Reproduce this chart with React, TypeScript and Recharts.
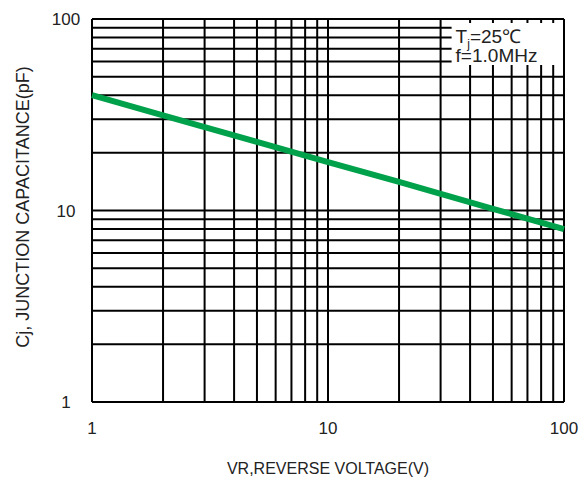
import { LineChart, Line, XAxis, YAxis, ReferenceLine, ReferenceArea, Label } from "recharts";

// VR (V) vs Cj (pF)
const voltage = [1, 2, 5, 10, 20, 50, 100];
const capacitance = [40, 31.4, 22.8, 17.9, 14.1, 10.2, 8];

const xTicks = [1, 10, 100];
const yTicks = [1, 10, 100];
const gridX = [1, 2, 3, 4, 5, 6, 7, 8, 9, 10, 20, 30, 40, 50, 60, 70, 80, 90, 100];
const gridY = [1, 2, 3, 4, 5, 6, 7, 8, 9, 10, 20, 30, 40, 50, 60, 70, 80, 90, 100];

// white box behind the test conditions (data units)
const box = { x1: 33.4, x2: 94.5, y1: 57.6, y2: 95.3 };

const data = voltage.map((v, i) => ({ v, c: capacitance[i] }));

const font = "'Liberation Sans', Arial, sans-serif";

function YTick({ x, y, payload }: any) {
  return (
    <text x={x - 18} y={y} dy={6} textAnchor="middle" fontSize={17} fill="#222" fontFamily={font}>
      {payload.value}
    </text>
  );
}

function XTick({ x, y, payload }: any) {
  return (
    <text x={x} y={y} dy={24} textAnchor="middle" fontSize={17} fill="#222" fontFamily={font}>
      {payload.value}
    </text>
  );
}

function YTitle() {
  return (
    <text x={29} y={207} transform="rotate(-90 29 207)" textAnchor="middle" fontSize={18} fill="#222" fontFamily={font}>
      Cj, JUNCTION CAPACITANCE(pF)
    </text>
  );
}

function Conditions({ viewBox }: any) {
  const { x, y } = viewBox;
  return (
    <text fontSize={19} fill="#222" fontFamily={font}>
      <tspan x={x + 4} y={y + 20}>T</tspan>
      <tspan fontSize={12} dy={5}>j</tspan>
      <tspan dy={-5}>=25℃</tspan>
      <tspan x={x + 4} y={y + 39}>f=1.0MHz</tspan>
    </text>
  );
}

export default function App() {
  return (
    <div style={{ position: "absolute", left: 0, top: 0, background: "#fff" }}>
      <LineChart width={579} height={477} data={data} margin={{ top: 19, right: 15, bottom: 0, left: 0 }}>
        <XAxis
          dataKey="v"
          type="number"
          scale="log"
          domain={[1, 100]}
          ticks={xTicks}
          axisLine={false}
          tickLine={false}
          height={75}
          tick={<XTick />}
        >
          <Label value="VR,REVERSE VOLTAGE(V)" position="insideBottom" offset={3} fontSize={16} fill="#222" fontFamily={font} />
        </XAxis>
        <YAxis
          type="number"
          scale="log"
          domain={[1, 100]}
          ticks={yTicks}
          axisLine={false}
          tickLine={false}
          width={92}
          tick={<YTick />}
        >
          <Label content={<YTitle />} />
        </YAxis>
        {gridX.map((g) =>
          g > box.x1 && g < box.x2 ? (
            [
              <ReferenceLine key={"xa" + g} segment={[{ x: g, y: 1 }, { x: g, y: box.y1 }]} stroke="#000" strokeWidth={2} />,
              <ReferenceLine key={"xb" + g} segment={[{ x: g, y: box.y2 }, { x: g, y: 100 }]} stroke="#000" strokeWidth={2} />,
            ]
          ) : (
            <ReferenceLine key={"x" + g} x={g} stroke="#000" strokeWidth={2} />
          )
        )}
        {gridY.map((g) =>
          g > box.y1 && g < box.y2 ? (
            <ReferenceLine key={"y" + g} segment={[{ x: 1, y: g }, { x: box.x1, y: g }]} stroke="#000" strokeWidth={2} />
          ) : (
            <ReferenceLine key={"y" + g} y={g} stroke="#000" strokeWidth={2} />
          )
        )}
        <ReferenceArea
          x1={box.x1}
          x2={box.x2}
          y1={box.y1}
          y2={box.y2}
          fill="#fff"
          fillOpacity={0}
          stroke="none"
          label={<Conditions />}
        />
        <Line dataKey="c" stroke="#00a14b" strokeWidth={6} dot={false} isAnimationActive={false} />
      </LineChart>
    </div>
  );
}
